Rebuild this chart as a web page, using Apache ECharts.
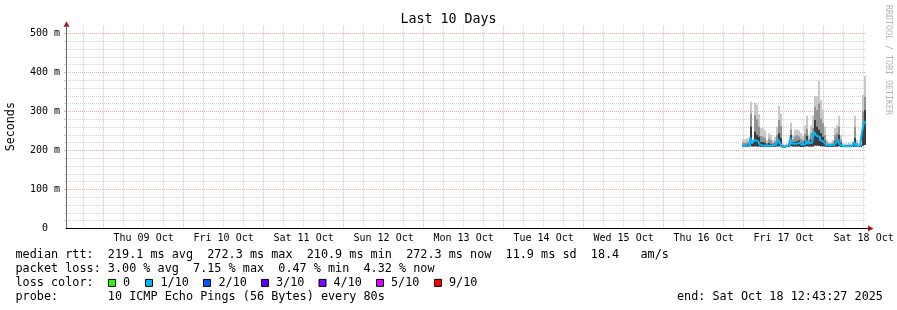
<!DOCTYPE html>
<html><head><meta charset="utf-8">
<script src="https://cdn.jsdelivr.net/npm/echarts@6/dist/echarts.min.js"></script>
<style>html,body{margin:0;padding:0;background:#fff}#c{width:897px;height:310px}</style>
</head><body><div id="c"></div>
<script>
// ---- data ----
const dayLabels = ['Thu 09 Oct','Fri 10 Oct','Sat 11 Oct','Sun 12 Oct','Mon 13 Oct','Tue 14 Oct','Wed 15 Oct','Thu 16 Oct','Fri 17 Oct','Sat 18 Oct'];
const dayNoonHours = [36, 60, 84, 108, 132, 156, 180, 204, 228, 252]; // hours since Wed 08 Oct 00:00
const yLabelValues = [0, 100, 200, 300, 400, 500];
const xStart = 12.7242;  // Wed 08 Oct 12:43:27
const xEnd = 252.7242;   // Sat 18 Oct 12:43:27
const colStart = 215.5242; // first smoke column (hours)
const colStep = 0.6;       // hours per column
const smokeMax = [229,229,231,231,325,227,322,318,293,257,257,252,227,244,240,227,235,261,314,295,218,214,218,227,271,240,253,254,251,244,237,265,289,240,265,290,340,340,379,330,305,261,227,222,222,227,257,265,289,240,218,218,218,220,218,218,289,227,218,218,342,391];
const smokeP80 = [220,219,222,222,295,222,291,280,261,237,235,232,220,230,226,219,224,240,278,262,214,212,215,220,253,228,236,240,236,230,226,242,256,228,245,258,312,304,321,282,270,240,220,217,217,220,240,244,261,228,214,214,214,215,214,214,261,219,214,214,300,338];
const smokeP60 = [214,214,215,216,261,220,248,240,235,222,222,220,215,219,216,214,217,225,244,233,212,211,212,216,240,222,222,224,226,220,218,225,238,222,228,236,278,261,253,245,235,225,216,214,214,216,224,228,240,220,212,212,212,212,212,212,232,214,212,212,262,304];
const smokeMin = [209,209,209,210,211,210,211,210,210,209,209,209,209,209,209,209,209,210,211,210,208,208,209,209,211,210,210,210,210,209,209,210,211,210,210,210,213,212,212,211,211,210,209,209,209,209,210,210,211,209,209,209,209,209,209,209,210,209,209,209,212,214];
const medianRtt = [212,212,212,213,234,218,227,224,222,214,212,214,212,214,212,212,214,218,229,218,210,210,211,214,234,218,217,218,220,217,214,217,227,218,220,222,248,239,234,227,222,218,214,213,213,214,217,220,229,214,211,211,211,211,211,211,222,212,211,211,248,272.3];
const statsLines = [
  'median rtt:  219.1 ms avg  272.3 ms max  210.9 ms min  272.3 ms now  11.9 ms sd  18.4   am/s',
  'packet loss: 3.00 % avg  7.15 % max  0.47 % min  4.32 % now',
  'loss color:',
  'probe:       10 ICMP Echo Pings (56 Bytes) every 80s'
];
const endText = 'end: Sat Oct 18 12:43:27 2025';
const lossLabels = ['0','1/10','2/10','3/10','4/10','5/10','9/10'];
const lossColors = ['#26ff00','#00b8ff','#0059ff','#5e00ff','#7e00ff','#dd00ff','#ff0000'];

// ---- layout ----
const MONO = '"DejaVu Sans Mono", monospace';
const lossBoxX = [108.5, 145.5, 203.5, 261.5, 319, 376.5, 434.5];
const lossLabelX = [123, 160.5, 218.5, 276, 333.5, 391, 449];
const rowY = [254.5, 268.7, 282.9, 297];

const xMinorGrid = []; for (let h = 18; h < xEnd; h += 6) if (h % 24 !== 0) xMinorGrid.push(h);
const xMajorGrid = []; for (let h = 24; h < xEnd; h += 24) xMajorGrid.push(h);
const yMinorGrid = []; for (let v = 20; v < 500; v += 20) if (v % 100 !== 0) yMinorGrid.push(v);
const yMajorGrid = [100, 200, 300, 400, 500];

const smokeData = smokeMax.map((m, i) => [colStart + i * colStep, smokeMin[i], smokeP60[i], smokeP80[i], m]);
const medianData = medianRtt.map((v, i) => [colStart + i * colStep, v]);
medianData.push([xEnd, medianRtt[medianRtt.length - 1]]);

const GREY = '#d2d2d2', RED = '#eeaaaa';
const chart = echarts.init(document.getElementById('c'), null, {renderer: 'canvas'});

const gridAxisX = (vals, color, z) => ({
  type: 'value', gridIndex: 0, min: xStart, max: xEnd, position: 'bottom', z: z,
  axisLine: {show: false}, axisLabel: {show: false},
  axisTick: {show: false, customValues: vals},
  splitLine: {show: true, lineStyle: {color: color, width: 1, type: [1, 1]}}
});
const gridAxisY = (vals, color, z) => ({
  type: 'value', gridIndex: 0, min: 0, max: 520, position: 'left', z: z,
  axisLine: {show: false}, axisLabel: {show: false},
  axisTick: {show: true, length: 2, customValues: vals, lineStyle: {color: color}},
  splitLine: {show: true, lineStyle: {color: color, width: 1, type: [1, 1]}}
});

const graphics = [];
graphics.push({type: 'text', x: 448.5, y: 19.5, style: {text: 'Last 10 Days', font: '13.3px ' + MONO, fill: '#000', align: 'center', verticalAlign: 'middle'}});
graphics.push({type: 'text', x: 10.5, y: 126.7, rotation: Math.PI / 2, style: {text: 'Seconds', font: '11.7px ' + MONO, fill: '#000', align: 'center', verticalAlign: 'middle'}});
graphics.push({type: 'text', x: 888, y: 60, rotation: -Math.PI / 2, style: {text: 'RRDTOOL / TOBI OETIKER', font: '8.3px ' + MONO, fill: '#b4b4b4', align: 'center', verticalAlign: 'middle'}});
statsLines.forEach((s, i) => graphics.push({type: 'text', x: 15.5, y: rowY[i], style: {text: s, font: '11.8px ' + MONO, fill: '#000', align: 'left', verticalAlign: 'middle'}}));
graphics.push({type: 'text', x: 677, y: rowY[3], style: {text: endText, font: '11.8px ' + MONO, fill: '#000', align: 'left', verticalAlign: 'middle'}});
lossLabels.forEach((l, i) => {
  graphics.push({type: 'rect', shape: {x: lossBoxX[i], y: rowY[2] - 3.5, width: 7, height: 7}, style: {fill: lossColors[i], stroke: '#000', lineWidth: 1}});
  graphics.push({type: 'text', x: lossLabelX[i], y: rowY[2], style: {text: l, font: '11.8px ' + MONO, fill: '#000', align: 'left', verticalAlign: 'middle'}});
});

chart.setOption({
  animation: false,
  backgroundColor: '#fff',
  grid: {left: 66, right: 31, top: 25.7, bottom: 81.5, containLabel: false},
  xAxis: [
    {
      type: 'value', gridIndex: 0, min: xStart, max: xEnd, position: 'bottom', z: 5,
      axisLine: {show: true, onZero: false, lineStyle: {color: '#000', width: 1}},
      axisTick: {show: false},
      axisLabel: {customValues: dayNoonHours, margin: 5, color: '#000', fontFamily: MONO, fontSize: 10,
        formatter: v => dayLabels[dayNoonHours.indexOf(Math.round(v))] || ''},
      splitLine: {show: false}
    },
    gridAxisX(xMinorGrid, GREY, 0),
    gridAxisX(xMajorGrid, RED, 1)
  ],
  yAxis: [
    {
      type: 'value', gridIndex: 0, min: 0, max: 520, position: 'left', z: 5,
      axisLine: {show: true, onZero: false, lineStyle: {color: '#666', width: 1}},
      axisTick: {show: false, customValues: yLabelValues},
      axisLabel: {customValues: yLabelValues, margin: 6, color: '#000', fontFamily: MONO, fontSize: 10,
        formatter: v => v === 0 ? '0\u00a0\u00a0' : v + ' m'},
      splitLine: {show: false}
    },
    gridAxisY(yMinorGrid, GREY, 0),
    gridAxisY(yMajorGrid, RED, 1)
  ],
  series: [
    {
      type: 'custom', xAxisIndex: 0, yAxisIndex: 0, z: 3, clip: true,
      encode: {x: 0, y: [1, 4]},
      data: smokeData,
      renderItem: (params, api) => {
        const t0 = api.value(0), t1 = t0 + colStep;
        const lo = api.value(1);
        const bands = [[api.value(4), '#c8c8c8'], [api.value(3), '#939393'], [api.value(2), '#3c3c3c']];
        return {
          type: 'group',
          children: bands.map(b => {
            const a = api.coord([t0, b[0]]);
            const c = api.coord([t1, lo]);
            return {type: 'rect', shape: {x: a[0], y: a[1], width: c[0] - a[0], height: c[1] - a[1]}, style: {fill: b[1]}};
          })
        };
      }
    },
    {
      type: 'line', xAxisIndex: 0, yAxisIndex: 0, z: 4, step: 'end',
      data: medianData, showSymbol: false, symbol: 'none',
      lineStyle: {color: '#00b8ff', width: 2}
    }
  ],
  graphic: graphics
});

// axis arrows (decoration), placed from the axis scales
const topLeft = chart.convertToPixel({xAxisIndex: 0, yAxisIndex: 0}, [xStart, 520]);
const botRight = chart.convertToPixel({xAxisIndex: 0, yAxisIndex: 0}, [xEnd, 0]);
const ax = Math.round(topLeft[0]) + 0.5, ay = topLeft[1];
const bx = botRight[0], by = Math.round(botRight[1]) - 0.5;
graphics.push({type: 'polygon', shape: {points: [[ax - 3, ay + 1], [ax + 3, ay + 1], [ax, ay - 4.5]]}, style: {fill: '#9a1c1c'}});
graphics.push({type: 'polygon', shape: {points: [[bx + 2, by - 3], [bx + 2, by + 3], [bx + 7.5, by]]}, style: {fill: '#9a1c1c'}});
graphics.push({type: 'rect', shape: {x: bx, y: by - 0.5, width: 2, height: 1}, style: {fill: '#000'}});
chart.setOption({graphic: graphics});
</script>
</body></html>
